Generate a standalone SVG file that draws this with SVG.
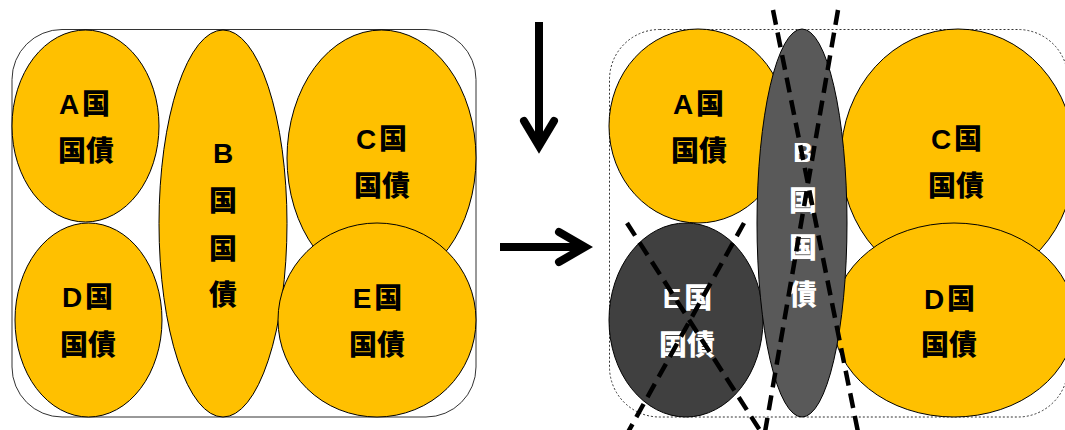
<svg xmlns="http://www.w3.org/2000/svg" width="1065" height="430" viewBox="0 0 1065 430">
<style>
.y{fill:#FFC000;stroke:#000;stroke-width:1}
.dk{fill:#404040;stroke:#000;stroke-width:1}
.gr{fill:#595959;stroke:#000;stroke-width:1}
text{font-family:"Liberation Sans","Noto Sans CJK JP",sans-serif;font-weight:900;font-size:28px;text-anchor:middle;fill:#000}
text.w{fill:#fff}
.frame{fill:#fff;stroke:#333;stroke-width:1}
.dot{fill:none;stroke:#333;stroke-width:1;stroke-dasharray:2 2}
.arr{fill:none;stroke:#000;stroke-width:8}
.strike{fill:none;stroke:#000;stroke-width:4.5;stroke-dasharray:15 8}
</style>
<rect width="1065" height="430" fill="#fff"/>
<g id="left-frame"><rect class="frame" x="12" y="29.5" width="464" height="387.5" rx="50"/></g>
<g id="L-A"><ellipse class="y" cx="85.5" cy="126" rx="73.5" ry="96"/><text x="86" y="114" letter-spacing="3">A国</text><text x="86" y="161">国債</text></g>
<g id="L-D"><ellipse class="y" cx="88.5" cy="320" rx="73.5" ry="97"/><text x="89" y="307" letter-spacing="3">D国</text><text x="88" y="355">国債</text></g>
<g id="L-B"><ellipse class="y" cx="223" cy="223.5" rx="64" ry="193.5"/><text x="223" y="163">B</text><text x="223" y="211">国</text><text x="223" y="259">国</text><text x="223" y="305">債</text></g>
<g id="L-C"><ellipse class="y" cx="381.5" cy="158" rx="94.5" ry="128"/><text x="383" y="149" letter-spacing="3">C国</text><text x="382" y="196">国債</text></g>
<g id="L-E"><ellipse class="y" cx="377" cy="320" rx="99" ry="97"/><text x="379" y="308" letter-spacing="3">E国</text><text x="377" y="355">国債</text></g>
<g id="right-frame"><rect class="dot" x="609.5" y="29.5" width="458.5" height="387.5" rx="50"/></g>
<g id="R-A"><ellipse class="y" cx="698" cy="126" rx="89" ry="97"/><text x="700" y="114" letter-spacing="3">A国</text><text x="699" y="161">国債</text></g>
<g id="R-C"><ellipse class="y" cx="958" cy="158" rx="117" ry="129"/><text x="958" y="149" letter-spacing="3">C国</text><text x="956" y="196">国債</text></g>
<g id="R-D"><ellipse class="y" cx="954" cy="320" rx="121" ry="97"/><text x="951" y="309" letter-spacing="3">D国</text><text x="949" y="355">国債</text></g>
<g id="R-E"><ellipse class="dk" cx="686" cy="320" rx="77" ry="97"/><text class="w" x="689" y="308" letter-spacing="3">E国</text><text class="w" x="687" y="355">国債</text></g>
<g id="R-B"><ellipse class="gr" cx="802" cy="223" rx="45" ry="194"/><text class="w" x="803" y="162">B</text><text class="w" x="803" y="211">国</text><text class="w" x="803" y="258">国</text><text class="w" x="803" y="305">債</text></g>
<g id="strikes">
<line class="strike" x1="627" y1="223" x2="761" y2="432"/>
<line class="strike" x1="744" y1="223" x2="627" y2="434"/>
<line class="strike" x1="773" y1="10" x2="858" y2="432"/>
<line class="strike" x1="838" y1="10" x2="765" y2="432"/>
</g>
<g id="connectors">
<line class="arr" x1="539" y1="22" x2="539" y2="144"/>
<polyline class="arr" points="524,121 539,146 554,121" stroke-linecap="round" stroke-linejoin="miter"/>
<line class="arr" x1="500" y1="247" x2="584" y2="247"/>
<polyline class="arr" points="559,232 585,247 559,262" stroke-linecap="round" stroke-linejoin="miter"/>
</g>
</svg>
